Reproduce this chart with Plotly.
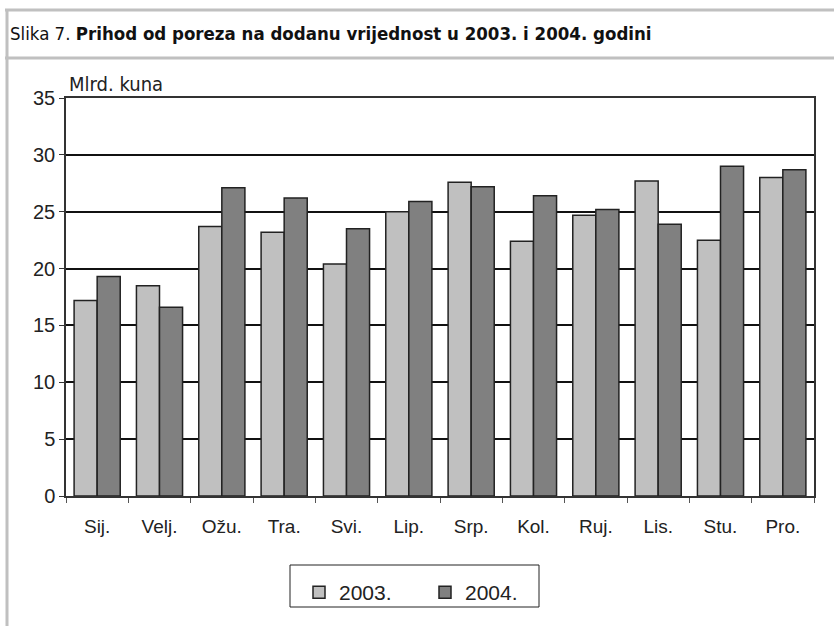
import plotly.graph_objects as go

months = ["Sij.", "Velj.", "Ožu.", "Tra.", "Svi.", "Lip.", "Srp.", "Kol.", "Ruj.", "Lis.", "Stu.", "Pro."]
v2003 = [17.2, 18.5, 23.7, 23.2, 20.4, 25.0, 27.6, 22.4, 24.7, 27.7, 22.5, 28.0]
v2004 = [19.3, 16.6, 27.1, 26.2, 23.5, 25.9, 27.2, 26.4, 25.2, 23.9, 29.0, 28.7]
y_ticks = [0, 5, 10, 15, 20, 25, 30, 35]

W, H = 834, 626
L, R, T, B = 66, 20, 98, 130
PW, PH = W - L - R, H - T - B

def px(x):
    return (x - L) / PW

def py(y):
    return (H - B - y) / PH

FONT = "Liberation Sans, Arial, sans-serif"
NARROW = "Liberation Sans Narrow, DejaVu Sans Condensed, sans-serif"

fig = go.Figure()
fig.add_bar(x=months, y=v2003, name="2003.", marker=dict(color="#c0c0c0", line=dict(color="#222222", width=1.5)))
fig.add_bar(x=months, y=v2004, name="2004.", marker=dict(color="#808080", line=dict(color="#222222", width=1.5)))

grey = "#c0c0c0"
shapes = [
    dict(type="line", xref="paper", yref="paper", x0=px(5), x1=px(834), y0=py(10), y1=py(10), line=dict(color=grey, width=3)),
    dict(type="line", xref="paper", yref="paper", x0=px(5), x1=px(834), y0=py(58), y1=py(58), line=dict(color=grey, width=3)),
    dict(type="line", xref="paper", yref="paper", x0=px(7), x1=px(7), y0=py(9), y1=py(626), line=dict(color=grey, width=3)),
    dict(type="rect", xref="paper", yref="paper", x0=px(290), x1=px(539), y0=py(565), y1=py(607), line=dict(color="#222222", width=1)),
]

fig.update_layout(
    width=W, height=H,
    margin=dict(l=L, r=R, t=T, b=B, autoexpand=False),
    paper_bgcolor="white", plot_bgcolor="white",
    barmode="group", bargap=0.26, bargroupgap=0,
    font=dict(family=FONT, color="#222222"),
    shapes=shapes,
    showlegend=True,
    legend=dict(
        orientation="h", x=px(299), xanchor="left", y=py(572), yanchor="top",
        borderwidth=0, bgcolor="rgba(0,0,0,0)",
        font=dict(size=21, family=FONT, color="#222222"),
        entrywidth=81, entrywidthmode="pixels",
    ),
    annotations=[
        dict(text="Slika 7. <b>Prihod od poreza na dodanu vrijednost u 2003. i 2004. godini</b>",
             xref="paper", yref="paper", x=px(8), y=py(33), xanchor="left", yanchor="middle",
             showarrow=False, font=dict(size=18.5, family=NARROW, color="#111111")),
        dict(text="Mlrd. kuna", xref="paper", yref="paper", x=px(67), y=py(84),
             xanchor="left", yanchor="middle", showarrow=False,
             font=dict(size=20, family=NARROW, color="#222222")),
    ],
)

fig.update_yaxes(
    range=[0, 35], tickvals=y_ticks, ticks="outside", ticklen=5, tickcolor="#333333",
    showgrid=True, gridcolor="#111111", gridwidth=1.8,
    showline=True, linecolor="#333333", linewidth=1.5, mirror=True,
    zeroline=False,
    tickfont=dict(size=20, family=FONT, color="#222222"),
)
fig.update_xaxes(
    tickson="boundaries", ticks="outside", ticklen=5, tickcolor="#555555",
    showline=True, linecolor="#333333", linewidth=1.5, mirror=True,
    tickfont=dict(size=19, family=FONT, color="#222222"),
    ticklabelstandoff=12,
)

fig.write_html("out.html", config={"displayModeBar": False},
               post_script="document.body.style.margin='0';document.body.style.overflow='hidden';")
